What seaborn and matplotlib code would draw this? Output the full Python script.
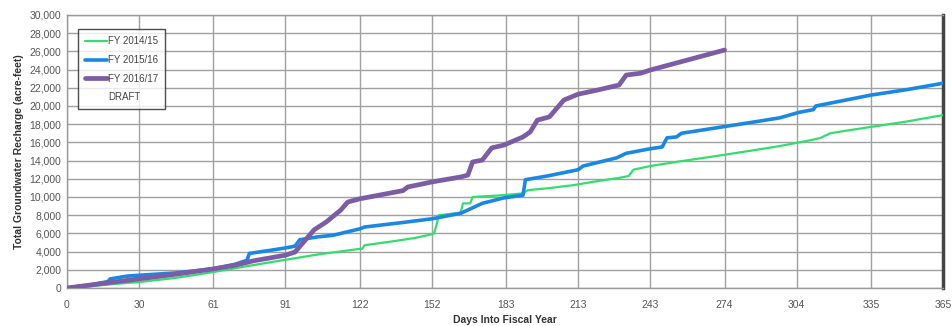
import numpy as np
import pandas as pd
import seaborn as sns
import matplotlib.pyplot as plt
from matplotlib.lines import Line2D
from matplotlib.ticker import FuncFormatter

# cumulative recharge (acre-feet) by day into fiscal year
days_1415 = [0, 10, 20, 30, 45, 61, 75, 91, 105, 122, 123, 124, 135, 145, 152, 153, 155,
             160, 164, 165, 168, 169, 182, 190, 192, 200, 211, 220, 230, 234, 236, 243,
             255, 273, 290, 297, 305, 311, 314, 318, 325, 335, 350, 365]
vals_1415 = [0, 200, 450, 650, 1100, 1750, 2400, 3100, 3700, 4300, 4300, 4700, 5100, 5500,
             5900, 6000, 8000, 8150, 8300, 9300, 9300, 10000, 10200, 10400, 10750, 10950,
             11300, 11700, 12100, 12300, 13000, 13400, 13900, 14600, 15300, 15600, 16000,
             16300, 16500, 17000, 17300, 17700, 18300, 19000]

days_1516 = [0, 10, 17, 18, 25, 30, 45, 61, 70, 75, 76, 85, 91, 95, 97, 104, 111, 122, 124,
             140, 152, 160, 164, 173, 182, 190, 191, 200, 213, 215, 229, 233, 243, 248, 250,
             254, 256, 273, 290, 297, 305, 311, 312, 335, 350, 365]
vals_1516 = [0, 350, 700, 1000, 1300, 1400, 1650, 2100, 2600, 3050, 3800, 4150, 4400, 4600,
             5300, 5600, 5800, 6500, 6700, 7200, 7600, 8000, 8200, 9300, 9900, 10200, 11900,
             12300, 13000, 13400, 14300, 14800, 15300, 15500, 16500, 16600, 17000, 17700,
             18400, 18700, 19300, 19600, 20000, 21200, 21800, 22500]

days_1617 = [0, 15, 30, 45, 61, 70, 78, 91, 95, 103, 108, 114, 117, 122, 130, 140, 142, 152,
             164, 167, 169, 173, 177, 182, 190, 193, 196, 201, 207, 213, 221, 230, 233, 239,
             243, 274]
vals_1617 = [0, 500, 1000, 1500, 2100, 2500, 3000, 3600, 3950, 6400, 7250, 8550, 9450, 9800,
             10200, 10700, 11100, 11650, 12200, 12400, 13850, 14050, 15400, 15700, 16600,
             17150, 18450, 18800, 20650, 21300, 21750, 22300, 23400, 23600, 23950, 26150]

series_names = ['FY 2014/15', 'FY 2015/16', 'FY 2016/17']
x_ticks = [0, 30, 61, 91, 122, 152, 183, 213, 243, 274, 304, 335, 365]

df = pd.concat([
    pd.DataFrame({'day': days_1415, 'af': vals_1415, 'year': series_names[0]}),
    pd.DataFrame({'day': days_1516, 'af': vals_1516, 'year': series_names[1]}),
    pd.DataFrame({'day': days_1617, 'af': vals_1617, 'year': series_names[2]}),
])

colors = {'FY 2014/15': '#33dd6e', 'FY 2015/16': '#1a88e2', 'FY 2016/17': '#7d5ca6'}
widths = {'FY 2014/15': 1.6, 'FY 2015/16': 2.6, 'FY 2016/17': 3.4}

sns.set_style('white')
plt.rcParams['font.family'] = ['Liberation Sans', 'DejaVu Sans']

fig = plt.figure(figsize=(9.53, 3.26), dpi=100)
ax = fig.add_axes([0.0703, 0.1166, 0.9192, 0.8374])

for name in series_names:
    sns.lineplot(data=df[df['year'] == name], x='day', y='af', color=colors[name],
                 linewidth=widths[name], ax=ax, label=name, sort=False, zorder=3)

ax.set_xlim(0, 365)
ax.set_ylim(0, 30000)
ax.set_xticks(x_ticks)
ax.set_yticks(np.arange(0, 30001, 2000))
ax.yaxis.set_major_formatter(FuncFormatter(lambda v, p: f'{int(v):,}'))
ax.grid(True, color='#a0a0a0', linewidth=1.0, zorder=0)
ax.tick_params(axis='y', labelsize=7.5, labelcolor='#555555', length=0, pad=4)
ax.tick_params(axis='x', labelsize=7.5, labelcolor='#555555', length=0, pad=9)

ax.set_xlabel('Days Into Fiscal Year', fontsize=7.5, fontweight='bold', color='#333333', labelpad=3)
ax.set_ylabel('Total Groundwater Recharge (acre-feet)', fontsize=7.5, fontweight='bold',
              color='#333333', labelpad=4)

for side in ['top', 'left', 'bottom']:
    ax.spines[side].set_color('#999999')
    ax.spines[side].set_linewidth(1.0)
ax.spines['right'].set_color('#444444')
ax.spines['right'].set_linewidth(2.5)

handles = [Line2D([], [], color=colors[n], linewidth=widths[n]) for n in series_names]
handles.append(Line2D([], [], color='none'))
leg = ax.legend(handles, series_names + ['DRAFT'], loc='upper left',
                bbox_to_anchor=(0.007, 0.965), fontsize=7, frameon=True, fancybox=False,
                handlelength=2.3, handletextpad=0.1, labelspacing=0.9, borderpad=0.7,
                labelcolor='#444444')
leg.get_frame().set_edgecolor('#222222')
leg.get_frame().set_linewidth(1.0)

fig.savefig('out.png', dpi=100)
